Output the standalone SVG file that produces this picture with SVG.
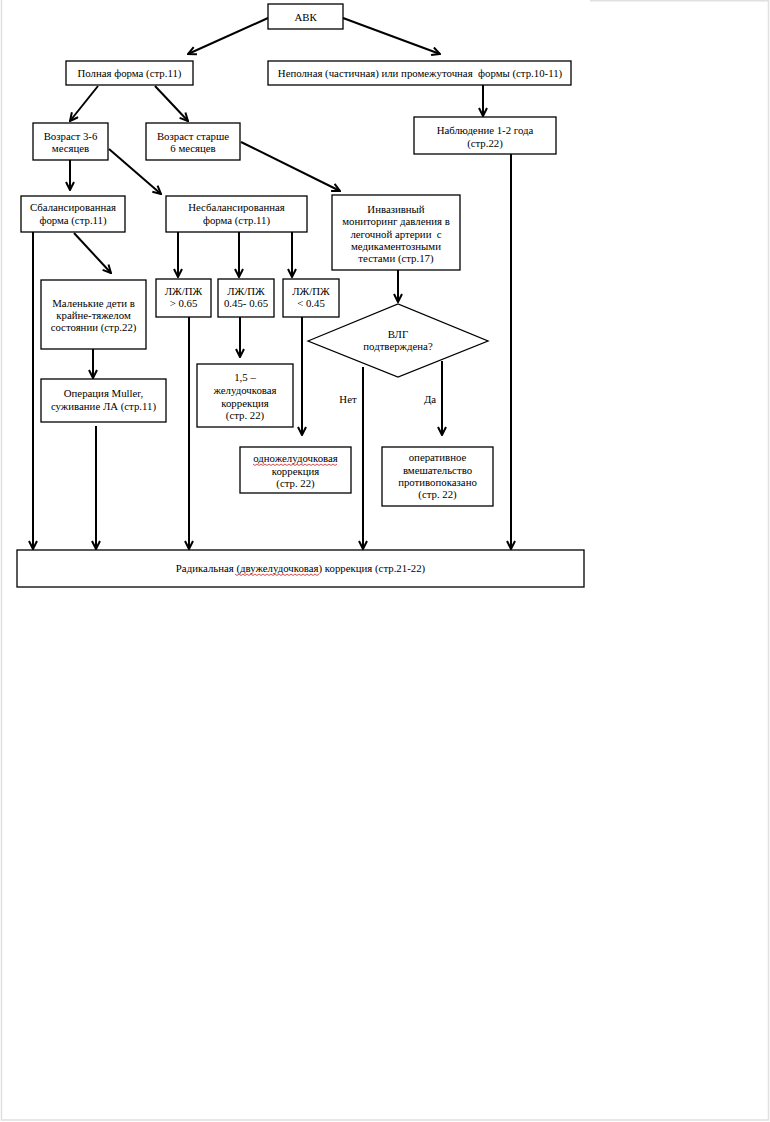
<svg xmlns="http://www.w3.org/2000/svg" width="770" height="1122" viewBox="0 0 770 1122">
<style>
.box{fill:#fff;stroke:#000;stroke-width:1.3}
.t{font-family:"Liberation Serif","Times New Roman",serif;font-size:10.8px;fill:#000;text-anchor:middle}
.c{stroke:#000;stroke-width:2;fill:none;marker-end:url(#ah)}
.pg{stroke:#e0e0e0;stroke-width:1.5;fill:none}
.sq{stroke:#d02020;stroke-width:0.8;fill:none}
</style>
<defs>
<marker id="ah" viewBox="0 0 10 10" refX="9" refY="5" markerWidth="10" markerHeight="10" markerUnits="userSpaceOnUse" orient="auto">
<path d="M1,1 L9,5 L1,9" stroke="#000" stroke-width="2" fill="none"/>
</marker>
</defs>
<rect width="770" height="1122" fill="#fff"/>
<path class="pg" d="M1.5,0 V1120 H768.5 V0 M590,0.8 H768.5"/>
<g id="connectors">
<line class="c" x1="268" y1="18" x2="188" y2="54"/>
<line class="c" x1="343" y1="18" x2="440" y2="54"/>
<line class="c" x1="98" y1="86" x2="70" y2="121"/>
<line class="c" x1="155" y1="86" x2="188" y2="121"/>
<line class="c" x1="70" y1="160" x2="70" y2="190"/>
<line class="c" x1="109" y1="149" x2="161" y2="194"/>
<line class="c" x1="241" y1="142" x2="340" y2="191"/>
<line class="c" x1="483" y1="85" x2="483" y2="116"/>
<line class="c" x1="511" y1="154" x2="511" y2="549"/>
<line class="c" x1="33" y1="232" x2="33" y2="549"/>
<line class="c" x1="74" y1="233" x2="111" y2="273"/>
<line class="c" x1="178" y1="232" x2="178" y2="277"/>
<line class="c" x1="239" y1="232" x2="239" y2="277"/>
<line class="c" x1="292" y1="232" x2="292" y2="277"/>
<line class="c" x1="189" y1="317" x2="189" y2="549"/>
<line class="c" x1="240" y1="317" x2="240" y2="357"/>
<line class="c" x1="302" y1="317" x2="302" y2="435"/>
<line class="c" x1="93" y1="349" x2="93" y2="378"/>
<line class="c" x1="96" y1="426" x2="96" y2="549"/>
<line class="c" x1="398" y1="270" x2="398" y2="302"/>
<line class="c" x1="363" y1="367" x2="363" y2="549"/>
<line class="c" x1="442" y1="361" x2="442" y2="435"/>
<text class="t" x="348" y="403">Нет</text>
<text class="t" x="430" y="403">Да</text>
</g>
<g id="avk"><rect class="box" x="268" y="4" width="75" height="25"/><text class="t" x="305.5" y="20.5">АВК</text></g>
<g id="full"><rect class="box" x="66" y="61" width="127" height="24"/><text class="t" x="129.5" y="76.5">Полная форма (стр.11)</text></g>
<g id="partial"><rect class="box" x="268" y="61" width="303" height="24"/><text class="t" x="420" y="76.5" xml:space="preserve">Неполная (частичная) или промежуточная  формы (стр.10-11)</text></g>
<g id="age36"><rect class="box" x="33" y="123" width="75" height="37"/><text class="t" x="70.5" y="139.5">Возраст 3-6</text><text class="t" x="70.5" y="151.5">месяцев</text></g>
<g id="age6"><rect class="box" x="146" y="123" width="94" height="37"/><text class="t" x="193" y="139.5">Возраст старше</text><text class="t" x="193" y="151.5">6 месяцев</text></g>
<g id="observe"><rect class="box" x="414" y="117" width="142" height="37"/><text class="t" x="485" y="134">Наблюдение 1-2 года</text><text class="t" x="485" y="146.5">(стр.22)</text></g>
<g id="balanced"><rect class="box" x="21" y="196" width="104" height="36"/><text class="t" x="73" y="210.5">Сбалансированная</text><text class="t" x="73" y="223.5">форма (стр.11)</text></g>
<g id="unbalanced"><rect class="box" x="166" y="196" width="141" height="36"/><text class="t" x="236.5" y="210.5">Несбалансированная</text><text class="t" x="236.5" y="223.5">форма (стр.11)</text></g>
<g id="invasive"><rect class="box" x="332" y="195" width="128" height="75"/>
<text class="t" x="396" y="212.5">Инвазивный</text><text class="t" x="396" y="225" xml:space="preserve">мониторинг давления в</text><text class="t" x="396" y="237.5" xml:space="preserve">легочной артерии  с</text><text class="t" x="396" y="249.5">медикаментозными</text><text class="t" x="396" y="262">тестами (стр.17)</text></g>
<g id="lv1"><rect class="box" x="156" y="279" width="55" height="38"/><text class="t" x="183.5" y="294.5">ЛЖ/ПЖ</text><text class="t" x="183.5" y="306.5">&gt; 0.65</text></g>
<g id="lv2"><rect class="box" x="218" y="279" width="56" height="38"/><text class="t" x="246" y="294.5">ЛЖ/ПЖ</text><text class="t" x="246" y="306.5">0.45- 0.65</text></g>
<g id="lv3"><rect class="box" x="283" y="279" width="56" height="38"/><text class="t" x="311" y="294.5">ЛЖ/ПЖ</text><text class="t" x="311" y="306.5">&lt; 0.45</text></g>
<g id="infants"><rect class="box" x="41" y="280" width="105" height="69"/><text class="t" x="93.5" y="306.5">Маленькие дети в</text><text class="t" x="93.5" y="318.5">крайне-тяжелом</text><text class="t" x="93.5" y="330.5">состоянии (стр.22)</text></g>
<g id="muller"><rect class="box" x="41" y="379" width="125" height="43"/><text class="t" x="103.5" y="396.5">Операция Muller,</text><text class="t" x="103.5" y="409.5">суживание ЛА (стр.11)</text></g>
<g id="onehalf"><rect class="box" x="197" y="364" width="96" height="63"/><text class="t" x="245" y="380.5">1,5 –</text><text class="t" x="245" y="394">желудочковая</text><text class="t" x="245" y="406.5">коррекция</text><text class="t" x="245" y="418.5">(стр. 22)</text></g>
<g id="vlg"><polygon class="box" points="308,341 398,304 488,341 398,377"/><text class="t" x="398" y="337.5">ВЛГ</text><text class="t" x="398" y="349.5">подтверждена?</text></g>
<g id="single"><rect class="box" x="240" y="447" width="111" height="46"/><text class="t" x="295.5" y="461.5">одножелудочковая</text><path class="sq" d="M253,464 l2,1.5 l2,-1.5 l2,1.5 l2,-1.5 l2,1.5 l2,-1.5 l2,1.5 l2,-1.5 l2,1.5 l2,-1.5 l2,1.5 l2,-1.5 l2,1.5 l2,-1.5 l2,1.5 l2,-1.5 l2,1.5 l2,-1.5 l2,1.5 l2,-1.5 l2,1.5 l2,-1.5 l2,1.5 l2,-1.5 l2,1.5 l2,-1.5 l2,1.5 l2,-1.5 l2,1.5 l2,-1.5 l2,1.5 l2,-1.5 l2,1.5 l2,-1.5 l2,1.5 l2,-1.5 l2,1.5 l2,-1.5 l2,1.5 l2,-1.5 l2,1.5 l2,-1.5"/><text class="t" x="295.5" y="474.5">коррекция</text><text class="t" x="295.5" y="486.5">(стр. 22)</text></g>
<g id="contra"><rect class="box" x="382" y="447" width="111" height="59"/><text class="t" x="437.5" y="460.5">оперативное</text><text class="t" x="437.5" y="473.5">вмешательство</text><text class="t" x="437.5" y="485.5">противопоказано</text><text class="t" x="437.5" y="497.5">(стр. 22)</text></g>
<g id="radical"><rect class="box" x="17" y="550" width="567" height="37"/><text class="t" x="300.5" y="571.5">Радикальная (двужелудочковая) коррекция (стр.21-22)</text><path class="sq" d="M235,574 l2,1.5 l2,-1.5 l2,1.5 l2,-1.5 l2,1.5 l2,-1.5 l2,1.5 l2,-1.5 l2,1.5 l2,-1.5 l2,1.5 l2,-1.5 l2,1.5 l2,-1.5 l2,1.5 l2,-1.5 l2,1.5 l2,-1.5 l2,1.5 l2,-1.5 l2,1.5 l2,-1.5 l2,1.5 l2,-1.5 l2,1.5 l2,-1.5 l2,1.5 l2,-1.5 l2,1.5 l2,-1.5 l2,1.5 l2,-1.5 l2,1.5 l2,-1.5 l2,1.5 l2,-1.5 l2,1.5 l2,-1.5 l2,1.5 l2,-1.5 l2,1.5 l2,-1.5"/></g>
</svg>
